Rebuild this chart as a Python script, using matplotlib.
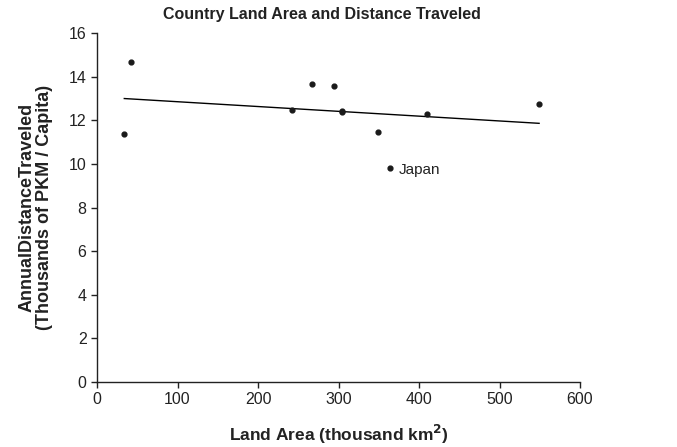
import matplotlib
matplotlib.use('Agg')
import matplotlib.pyplot as plt
import numpy as np

plt.rcParams['font.family'] = ['Liberation Sans', 'DejaVu Sans']

# land area (thousand km2) and annual distance (thousand PKM / capita)
land_area = [33.9, 42.4, 241.9, 267.7, 294.1, 303.9, 304.3, 348.9, 364.5, 410.3, 549.2]
distance = [11.35, 14.65, 12.48, 13.64, 13.59, 12.44, 12.36, 11.47, 9.79, 12.28, 12.75]
labels = ['', '', '', '', '', '', '', '', 'Japan', '', '']

x_ticks = [0, 100, 200, 300, 400, 500, 600]
y_ticks = [0, 2, 4, 6, 8, 10, 12, 14, 16]

fig = plt.figure(figsize=(6.77, 4.47), dpi=100)
ax = fig.add_axes([97 / 677, 1 - 382 / 447, 483 / 677, 349 / 447])

# trendline over data range
slope, icpt = np.polyfit(land_area, distance, 1)
xs = np.array([min(land_area), max(land_area)])
ax.plot(xs, slope * xs + icpt, color='black', lw=1.0)

ax.scatter(land_area, distance, s=12, color='#1a1a1a', zorder=3)
for xv, yv, lab in zip(land_area, distance, labels):
    if lab:
        ax.annotate(lab, (xv, yv), xytext=(6, -1), textcoords='offset points',
                    va='center', ha='left', fontsize=11, color='#222222')

ax.set_xlim(0, 600)
ax.set_ylim(0, 16)
ax.set_xticks(x_ticks)
ax.set_yticks(y_ticks)
for s in ['top', 'right']:
    ax.spines[s].set_visible(False)
for s in ['left', 'bottom']:
    ax.spines[s].set_linewidth(1.0)
    ax.spines[s].set_color('#222222')
ax.tick_params(direction='out', length=4, width=1, labelsize=11.5, colors='#222222')

ax.set_xlabel('Land Area (thousand km$^{\\mathbf{2}}$)', fontsize=12.5, fontweight='bold',
              labelpad=11, color='#222222')
ax.set_ylabel('AnnualDistanceTraveled\n(Thousands of PKM / Capita)', fontsize=13,
              fontweight='bold', labelpad=11, color='#222222', linespacing=1.05)
fig.text(322 / 677, 1 - 15 / 447, 'Country Land Area and Distance Traveled',
         ha='center', va='center', fontsize=11.5, fontweight='bold', color='#222222')

fig.savefig('out.png', dpi=100)
